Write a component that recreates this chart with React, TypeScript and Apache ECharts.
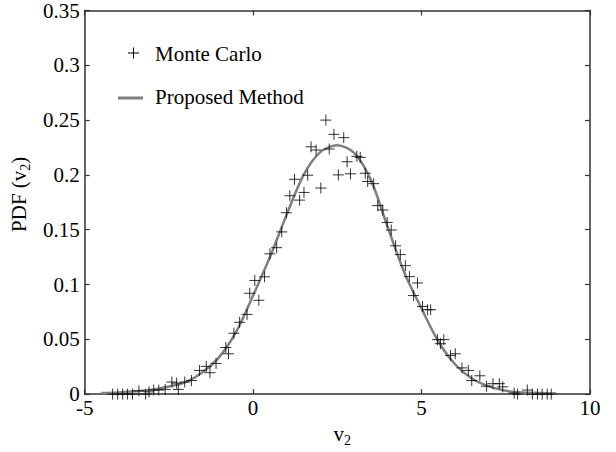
import React, { useEffect, useRef } from 'react';
import * as echarts from 'echarts';

// Monte Carlo samples
const mcX = [
  -4.17, -4.02, -3.87, -3.73, -3.58, -3.39, -3.19, -3.09, -2.95, -2.8,
  -2.61, -2.41, -2.27, -2.22, -2.03, -1.83, -1.59, -1.39, -1.28, -1.1,
  -0.81, -0.73, -0.57, -0.4, -0.18, -0.1, 0.05, 0.17, 0.34, 0.5,
  0.7, 0.85, 0.99, 1.09, 1.23, 1.38, 1.51, 1.62, 1.72, 1.87,
  2.01, 2.16, 2.26, 2.4, 2.53, 2.69, 2.79, 2.89, 3.08, 3.18,
  3.33, 3.4, 3.58, 3.7, 3.85, 3.98, 4.1, 4.23, 4.37, 4.52,
  4.64, 4.76, 4.88, 5.03, 5.18, 5.27, 5.47, 5.56, 5.66, 5.86,
  6.0, 6.2, 6.39, 6.49, 6.73, 6.93, 7.12, 7.31, 7.41, 7.75,
  7.85, 8.14, 8.29, 8.44, 8.58, 8.73, 8.85,
];
const mcY = [
  0, 0, 0, 0, 0, 0.003, 0, 0.002, 0.0037, 0.0037,
  0.0043, 0.011, 0.01, 0.0043, 0.011, 0.0124, 0.0216, 0.0253, 0.0195, 0.028,
  0.0425, 0.0368, 0.0555, 0.0655, 0.0727, 0.092, 0.1037, 0.0856, 0.107, 0.128,
  0.1336, 0.148, 0.1655, 0.181, 0.196, 0.177, 0.184, 0.1997, 0.2256, 0.2227,
  0.188, 0.25, 0.2236, 0.237, 0.2, 0.234, 0.212, 0.201, 0.217, 0.216,
  0.2015, 0.194, 0.192, 0.172, 0.168, 0.1566, 0.1497, 0.1353, 0.1273, 0.1172,
  0.1072, 0.0899, 0.1014, 0.0799, 0.077, 0.077, 0.0497, 0.046, 0.0497, 0.0353,
  0.0368, 0.0239, 0.0216, 0.0124, 0.0167, 0.0072, 0.0095, 0.0095, 0.0066, 0.0009,
  0, 0.0037, 0, 0, 0, 0, 0,
];

// Proposed method curve
const curveX = [
  -4.5, -4, -3.5, -3, -2.5, -2, -1.5, -1, -0.5, 0,
  0.5, 1, 1.5, 2, 2.5, 3, 3.5, 4, 4.5, 5,
  5.5, 6, 6.5, 7, 7.5, 8, 8.5, 9,
];
const curveY = [
  0.001, 0.0015, 0.0025, 0.004, 0.007, 0.011, 0.02, 0.034, 0.057, 0.09,
  0.125, 0.164, 0.2, 0.221, 0.227, 0.22, 0.195, 0.152, 0.11, 0.078,
  0.048, 0.027, 0.014, 0.007, 0.003, 0.0015, 0.001, 0.0005,
];

const xRange = [-5, 10];
const xStep = 5;
const yRange = [0, 0.35];
const yStep = 0.05;

const legendNames = ['Monte Carlo', 'Proposed Method'];

const FONT = '"Liberation Serif", "Times New Roman", serif';
const CURVE_COLOR = '#7f7f7f';
const AXIS_COLOR = '#333';

export default function App() {
  const ref = useRef<HTMLDivElement>(null);

  useEffect(() => {
    if (!ref.current) return;
    const chart = echarts.init(ref.current, undefined, { renderer: 'svg' });

    const axisLine = { show: true, onZero: false, lineStyle: { color: AXIS_COLOR, width: 1.5 } };
    const axisTick = { show: true, inside: true, length: 5, lineStyle: { color: AXIS_COLOR, width: 1.2 } };

    const rich = {
      a: { fontFamily: FONT, fontSize: 21, color: '#000', padding: [0, 0, 3, 0] },
      s: { fontFamily: FONT, fontSize: 14, color: '#000', verticalAlign: 'bottom' },
    };

    const option: any = {
      animation: false,
      backgroundColor: '#fff',
      grid: { left: 77, right: 26, top: 5, bottom: 41, containLabel: false },
      xAxis: [
        {
          type: 'value',
          min: xRange[0],
          max: xRange[1],
          interval: xStep,
          position: 'bottom',
          axisLine,
          axisTick,
          splitLine: { show: false },
          axisLabel: { fontFamily: FONT, fontSize: 21, color: '#000', margin: 3 },
          name: '{a|v}{s|2}',
          nameLocation: 'middle',
          nameGap: 14,
          nameTextStyle: { rich, padding: [0, 0, 0, 10] },
        },
        {
          type: 'value',
          min: xRange[0],
          max: xRange[1],
          interval: xStep,
          position: 'top',
          axisLine,
          axisTick,
          splitLine: { show: false },
          axisLabel: { show: false },
        },
      ],
      yAxis: [
        {
          type: 'value',
          min: yRange[0],
          max: yRange[1],
          interval: yStep,
          position: 'left',
          axisLine,
          axisTick,
          splitLine: { show: false },
          axisLabel: {
            fontFamily: FONT,
            fontSize: 21,
            color: '#000',
            margin: 5,
            formatter: (v: number) => String(+v.toFixed(2)),
          },
          name: '{a|PDF (v}{s|2}{a|)}',
          nameLocation: 'middle',
          nameRotate: 90,
          nameGap: 45,
          nameTextStyle: { rich, padding: [0, 0, 0, 16] },
        },
        {
          type: 'value',
          min: yRange[0],
          max: yRange[1],
          interval: yStep,
          position: 'right',
          axisLine,
          axisTick,
          splitLine: { show: false },
          axisLabel: { show: false },
        },
      ],
      series: [
        {
          name: legendNames[1],
          type: 'line',
          data: curveX.map((x, i) => [x, curveY[i]]),
          showSymbol: false,
          smooth: 0.3,
          lineStyle: { color: CURVE_COLOR, width: 2.5 },
          z: 2,
        },
        {
          name: legendNames[0],
          type: 'scatter',
          data: mcX.map((x, i) => [x, mcY[i]]),
          symbol: 'path://M0,5L10,5M5,0L5,10',
          symbolSize: 11,
          itemStyle: { color: 'transparent', borderColor: '#000', borderWidth: 1 },
          clip: false,
          z: 3,
        },
      ],
      graphic: [
        { type: 'line', shape: { x1: 128, y1: 53, x2: 139, y2: 53 }, style: { stroke: '#000', lineWidth: 1 } },
        { type: 'line', shape: { x1: 133.5, y1: 47.5, x2: 133.5, y2: 58.5 }, style: { stroke: '#000', lineWidth: 1 } },
        {
          type: 'text',
          x: 155,
          y: 54,
          style: { text: legendNames[0], fontFamily: FONT, fontSize: 21, fill: '#000', verticalAlign: 'middle' },
        },
        { type: 'line', shape: { x1: 118, y1: 98, x2: 143, y2: 98 }, style: { stroke: CURVE_COLOR, lineWidth: 3 } },
        {
          type: 'text',
          x: 155,
          y: 97,
          style: { text: legendNames[1], fontFamily: FONT, fontSize: 21, fill: '#000', verticalAlign: 'middle' },
        },
      ],
    };

    chart.setOption(option);
    return () => chart.dispose();
  }, []);

  return (
    <div
      ref={ref}
      style={{ position: 'fixed', left: 0, top: 0, width: 616, height: 452, background: '#fff' }}
    />
  );
}
